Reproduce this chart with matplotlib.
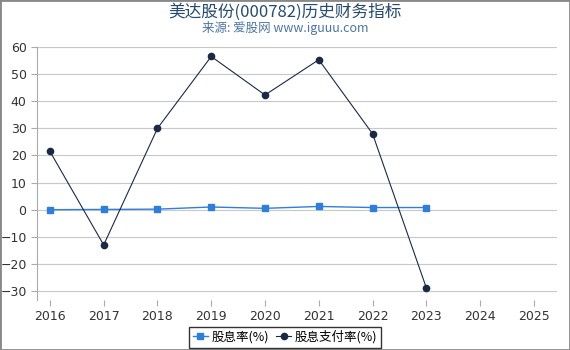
import matplotlib
matplotlib.use("Agg")
import matplotlib.pyplot as plt
from matplotlib.patches import Rectangle

plt.rcParams['font.family'] = ['DejaVu Sans', 'Noto Sans CJK SC']

years = [2016, 2017, 2018, 2019, 2020, 2021, 2022, 2023]
xticks = [2016, 2017, 2018, 2019, 2020, 2021, 2022, 2023, 2024, 2025]
yticks = [-30, -20, -10, 0, 10, 20, 30, 40, 50, 60]
dividend_yield = [0.0, 0.1, 0.2, 1.0, 0.5, 1.2, 0.8, 0.8]
payout_ratio = [21.5, -13.0, 30.0, 56.5, 42.3, 55.3, 28.0, -28.8]

W, H = 570, 350
fig = plt.figure(figsize=(W/100, H/100), dpi=100)
fig.patches.append(Rectangle((0, 0), 1, 1, transform=fig.transFigure,
                             fill=False, edgecolor='#888888', linewidth=2))
ax = fig.add_axes([37/W, 1-300/H, (557-37)/W, (300-47)/H])

ax.plot(years, dividend_yield, color='#2f7ed8', marker='s', markersize=4.5,
        linewidth=1, label='股息率(%)')
ax.plot(years, payout_ratio, color='#1a2a44', marker='o', markersize=4.5,
        linewidth=0.8, label='股息支付率(%)')

ax.set_xlim(2015.76, 2025.43)
ax.set_ylim(-33.3, 60)
ax.set_xticks(xticks)
ax.set_xticklabels([str(x) for x in xticks])
ax.set_yticks(yticks)
ax.grid(axis='y', color='#c8c8c8', linewidth=0.8)
ax.set_axisbelow(True)
for s in ['top', 'right', 'bottom']:
    ax.spines[s].set_visible(False)
ax.spines['left'].set_color('#aaaaaa')
ax.tick_params(axis='both', colors='#aaaaaa', labelcolor='#333333', labelsize=9, length=4)

cjk = ['Noto Sans CJK SC', 'DejaVu Sans']
fig.text(0.5, 1-12/H, '美达股份(000782)历史财务指标', ha='center', va='center',
         fontsize=12, color='#274b6d', family=cjk)
fig.text(0.5, 1-28/H, '来源: 爱股网 www.iguuu.com', ha='center', va='center',
         fontsize=9, color='#4d759e', family=cjk)

leg = fig.legend(loc='center', bbox_to_anchor=(0.5, 1-337/H), ncol=2,
                 prop={'family': cjk, 'size': 9},
                 frameon=True, fancybox=False, edgecolor='black', handlelength=1.2,
                 columnspacing=0.6, handletextpad=0.3, borderpad=0.3)
leg.get_frame().set_linewidth(1)

fig.savefig('out.png', dpi=100)
